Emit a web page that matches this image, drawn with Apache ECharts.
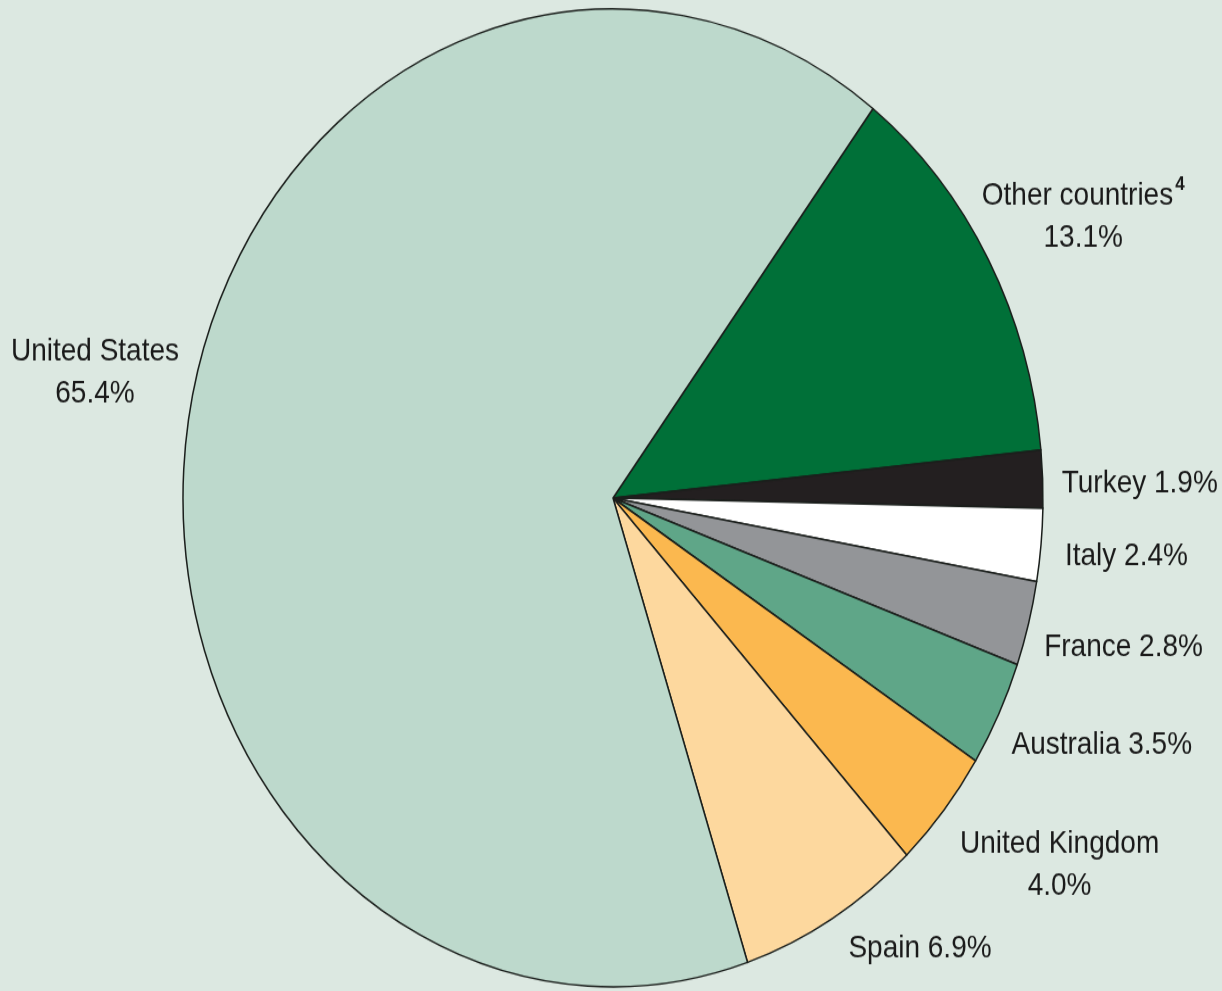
<!DOCTYPE html>
<html>
<head>
<meta charset="utf-8">
<script src="https://cdn.jsdelivr.net/npm/echarts@6/dist/echarts.min.js"></script>
<style>
  html, body { margin: 0; padding: 0; width: 1222px; height: 991px; background: #dce8e1; }
  #wrap { width: 1222px; height: 991px; overflow: hidden; }
  /* the source picture is squashed sideways, so draw it round and stretch it */
  #chart { width: 1222px; height: 872px; transform: scaleY(1.137); transform-origin: 0 0; }
</style>
</head>
<body>
<div id="wrap"><div id="chart"></div></div>
<script>
  const countries = ['Other countries', 'Turkey', 'Italy', 'France', 'Australia', 'United Kingdom', 'Spain', 'United States'];
  const shares = [13.1, 1.9, 2.4, 2.8, 3.5, 4.0, 6.9, 65.4];
  const colors = ['#007038', '#231f20', '#ffffff', '#939598', '#5fa688', '#fbb84f', '#fdd89e', '#bdd9cc'];

  // small nudges so the labels sit where the printed ones do
  const labelNudge = [[-26, -31], [-2, 4], [3, 9], [-5, 18], [-7, 22], [-2, 40], [1, 16], [11, -37]];

  const fontFamily = '"Liberation Sans Narrow", "Liberation Sans", Arial, sans-serif';

  const labelText = (p) => {
    if (p.name === 'Other countries') return '{n|Other countries}{sup|4}\n{n|' + p.value.toFixed(1) + '%}';
    if (p.name === 'United Kingdom' || p.name === 'United States') return '{n|' + p.name + '}\n{n|' + p.value.toFixed(1) + '%}';
    return '{n|' + p.name + ' ' + p.value.toFixed(1) + '%}';
  };

  const chart = echarts.init(document.getElementById('chart'));

  chart.setOption({
    backgroundColor: '#dce8e1',
    animation: false,
    series: [
      {
        type: 'pie',
        center: [613, 438],
        radius: [0, 430],
        startAngle: 52.8,
        clockwise: true,
        avoidLabelOverlap: false,
        itemStyle: { borderColor: '#1b1f1c', borderWidth: 1.5 },
        label: {
          show: true,
          position: 'outside',
          formatter: labelText,
          color: '#1a1a1a',
          rich: {
            n: { fontFamily: fontFamily, fontSize: 28, color: '#1a1a1a', lineHeight: 37, align: 'center' },
            sup: { fontFamily: fontFamily, fontSize: 17, fontWeight: 'bold', color: '#1a1a1a', verticalAlign: 'top', lineHeight: 37, padding: [0, 0, 0, 2] }
          }
        },
        labelLine: { show: false, length: 12, length2: 4 },
        labelLayout: (p) => ({ dx: labelNudge[p.dataIndex][0], dy: labelNudge[p.dataIndex][1] }),
        data: countries.map((c, i) => ({ name: c, value: shares[i], itemStyle: { color: colors[i] } }))
      }
    ]
  });
</script>
</body>
</html>
